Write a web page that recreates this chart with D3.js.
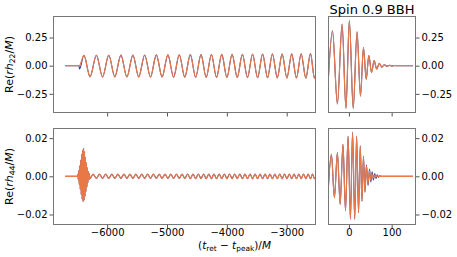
<!DOCTYPE html>
<html>
<head>
<meta charset="utf-8">
<script src="https://cdn.jsdelivr.net/npm/d3@7"></script>
<style>
  body { margin: 0; background: #fff; }
  text { font-family: "DejaVu Sans", sans-serif; fill: #000; }
</style>
</head>
<body>
<script>
// ---- data (extrema of each waveform, [t, value]) ----

// (2,2) mode, inspiral window
const h22Inspiral = [[-6700,0],[-6465,0],[-6389,0.092],[-6285,-0.098],[-6180,0.093],[-6077,-0.099],
  [-5973,0.093],[-5872,-0.099],[-5770,0.094],[-5670,-0.100],[-5570,0.094],[-5472,-0.100],
  [-5373,0.095],[-5276,-0.101],[-5178,0.096],[-5082,-0.101],[-4985,0.096],[-4890,-0.102],
  [-4795,0.097],[-4703,-0.102],[-4610,0.098],[-4521,-0.103],[-4432,0.098],[-4345,-0.104],
  [-4258,0.099],[-4172,-0.104],[-4085,0.100],[-3999,-0.105],[-3912,0.101],[-3826,-0.105],
  [-3740,0.101],[-3655,-0.106],[-3570,0.102],[-3486,-0.107],[-3402,0.103],[-3320,-0.107],
  [-3238,0.104],[-3157,-0.108],[-3076,0.104],[-2996,-0.109],[-2916,0.105],[-2837,-0.109],
  [-2758,0.106],[-2680,-0.110],[-2602,0.107],[-2535,-0.111],[-2500,0.0]];
// NR start differs (small dip before the first cycle)
const nr22Start = [[-6700,0],[-6472,0],[-6461,-0.03]];

// (2,2) mode, merger window
const h22Merger = [[-49,-0.17],[-38.5,0.31],[-27,-0.34],[-16,0.37],[-7,-0.38],[1,0.40],
  [10,-0.38],[19,0.30],[27,-0.27],[34,0.16],[40.5,-0.12],[46.5,0.09],[53,-0.06],[59,0.045],
  [65,-0.03],[71,0.02],[77,-0.013],[83,0.008],[89,-0.005],[95,0.003],[101,-0.0018],
  [107,0.001],[113,0],[150,0]];

// (4,4) mode, inspiral window: flat start, junk burst, then small wiggles
const h44Burst = [[-6700,0],[-6495,0],[-6490,0.0010],[-6482,-0.0018],[-6474,0.0030],[-6466,-0.0042],
  [-6458,0.0055],[-6450,-0.0068],[-6442,0.0085],[-6434,-0.0095],[-6426,0.0115],[-6418,-0.0120],
  [-6410,0.0138],[-6402,-0.0133],[-6394,0.0147],[-6386,-0.0125],[-6378,0.0130],[-6370,-0.0105],
  [-6362,0.0100],[-6354,-0.0080],[-6346,0.0072],[-6338,-0.0055],[-6330,0.0045],[-6322,-0.0033],
  [-6314,0.0025],[-6306,-0.0018],[-6298,0.0014],[-6290,-0.0012]];
const h44Inspiral = [[-6235,0.0011],[-6180,-0.0011],[-6128,0.0011],[-6077,-0.0011],[-6025,0.0011],
  [-5973,-0.0011],[-5922,0.0011],[-5872,-0.0011],[-5821,0.0011],[-5770,-0.0011],[-5720,0.0011],
  [-5670,-0.0011],[-5620,0.0011],[-5570,-0.0011],[-5521,0.0011],[-5472,-0.0011],[-5422,0.0011],
  [-5373,-0.0011],[-5324,0.0011],[-5276,-0.0011],[-5227,0.0011],[-5178,-0.0011],[-5130,0.0011],
  [-5082,-0.0011],[-5033,0.0011],[-4985,-0.0011],[-4937,0.0011],[-4890,-0.0011],[-4842,0.0011],
  [-4795,-0.0011],[-4749,0.0011],[-4703,-0.0011],[-4656,0.0012],[-4610,-0.0012],[-4565,0.0012],
  [-4521,-0.0012],[-4476,0.0012],[-4432,-0.0012],[-4388,0.0012],[-4345,-0.0012],[-4301,0.0012],
  [-4258,-0.0012],[-4215,0.0012],[-4172,-0.0012],[-4128,0.0012],[-4085,-0.0012],[-4042,0.0012],
  [-3999,-0.0012],[-3955,0.0012],[-3912,-0.0012],[-3869,0.0012],[-3826,-0.0012],[-3783,0.0012],
  [-3740,-0.0012],[-3697,0.0012],[-3655,-0.0012],[-3612,0.0012],[-3570,-0.0012],[-3528,0.0012],
  [-3486,-0.0012],[-3444,0.0012],[-3402,-0.0012],[-3361,0.0012],[-3320,-0.0012],[-3279,0.0012],
  [-3238,-0.0012],[-3197,0.0012],[-3157,-0.0012],[-3116,0.0012],[-3076,-0.0012],[-3036,0.0012],
  [-2996,-0.0012],[-2956,0.0012],[-2916,-0.0012],[-2876,0.0012],[-2837,-0.0012],[-2797,0.0012],
  [-2758,-0.0012],[-2719,0.0012],[-2680,-0.0012],[-2641,0.0012],[-2602,-0.0012],[-2568,0.0012],
  [-2535,-0.0012],[-2500,0.0012]];

// (4,4) mode, merger window
const h44Merger = [[-49,-0.009],[-41,0.0115],[-34,-0.0112],[-27,0.0124],[-20.5,-0.0147],[-14,0.0168],
  [-8,-0.018],[-2,0.021],[3.5,-0.0225],[8.5,0.0232],[13.5,-0.0225],[18,0.021],[22.5,-0.019],
  [26.5,0.016],[30.5,-0.013],[34,0.0105],[37.5,-0.0083]];
const h44Ring = [[41,0.0055],[44.5,-0.004],[48,0.0028],[51,-0.0019],[54,0.0013],[57,-0.0009],
  [60,0.0006],[63,-0.0004],[66,0.0002],[69,0],[150,0]];
// NR ringdown decays a bit slower and is visible under the model
const nr44Ring = [[41,0.006],[44.7,-0.0048],[48.2,0.0038],[51.3,-0.003],[54.3,0.0024],[57.3,-0.0019],
  [60.3,0.0015],[63.3,-0.0011],[66.3,0.0008],[69.3,-0.0005],[72.3,0.0003],[76,0],[150,0]];

const xTicksLeft = [-6000, -5000, -4000, -3000];
const xTicksRight = [0, 100];
const yTicks22 = [-0.25, 0, 0.25];
const yTicks44 = [-0.02, 0, 0.02];

// ---- layout ----
const W = 457, H = 257;
const nrColor = "#2f3c9a", modelColor = "#f37b42";

const svg = d3.select("body").append("svg")
  .attr("width", W).attr("height", H);

const xLeft = d3.scaleLinear().domain([-6905, -2510]).range([53, 316]);
const xRight = d3.scaleLinear().domain([-49, 157]).range([328, 416]);
const yTop = d3.scaleLinear().domain([-0.42, 0.441]).range([113, 16]);
const yBot = d3.scaleLinear().domain([-0.0255, 0.0253]).range([225, 128]);

const panels = [
  { id: "tl", x: xLeft, y: yTop, side: "left", xt: xTicksLeft, yt: yTicks22, xlab: false,
    nr: nr22Start.concat(h22Inspiral.slice(2)), model: h22Inspiral },
  { id: "tr", x: xRight, y: yTop, side: "right", xt: xTicksRight, yt: yTicks22, xlab: false,
    nr: h22Merger, model: h22Merger },
  { id: "bl", x: xLeft, y: yBot, side: "left", xt: xTicksLeft, yt: yTicks44, xlab: true,
    nr: h44Burst.concat(h44Inspiral), model: h44Burst.concat(h44Inspiral) },
  { id: "br", x: xRight, y: yBot, side: "right", xt: xTicksRight, yt: yTicks44, xlab: true,
    nr: h44Merger.concat(nr44Ring), model: h44Merger.concat(h44Ring) }
];

const fmtY = d3.format(".2f"), fmtX = d3.format("d");

panels.forEach(p => {
  const [x0, x1] = p.x.range();
  const [y1, y0] = p.y.range();

  svg.append("clipPath").attr("id", "clip-" + p.id)
    .append("rect").attr("x", x0).attr("y", y0).attr("width", x1 - x0).attr("height", y1 - y0);

  const line = d3.line()
    .x(d => p.x(d[0]))
    .y(d => p.y(d[1]))
    .curve(d3.curveMonotoneX);

  const g = svg.append("g").attr("clip-path", "url(#clip-" + p.id + ")");
  g.append("path").datum(p.nr).attr("d", line)
    .attr("fill", "none").attr("stroke", nrColor).attr("stroke-width", 1.1);
  g.append("path").datum(p.model).attr("d", line)
    .attr("fill", "none").attr("stroke", modelColor).attr("stroke-width", 1.2)
    .attr("stroke-opacity", 0.95);

  // y axis
  const yAxis = (p.side === "left" ? d3.axisLeft(p.y) : d3.axisRight(p.y))
    .tickValues(p.yt).tickFormat(fmtY)
    .tickSize(3.5).tickPadding(2).tickSizeOuter(0);
  const ya = svg.append("g")
    .attr("transform", "translate(" + (p.side === "left" ? x0 : x1) + ",0)")
    .call(yAxis);

  // x axis
  const xAxis = d3.axisBottom(p.x).tickValues(p.xt)
    .tickFormat(p.xlab ? fmtX : () => "")
    .tickSize(3.5).tickPadding(0.5).tickSizeOuter(0);
  const xa = svg.append("g").attr("transform", "translate(0," + y1 + ")").call(xAxis);

  [ya, xa].forEach(a => {
    a.select(".domain").remove();
    a.selectAll(".tick line").attr("stroke", "#555");
    a.selectAll("text").attr("font-size", 10).attr("font-family", "DejaVu Sans").attr("fill", "#000");
  });

  svg.append("rect")
    .attr("x", x0 + 0.5).attr("y", y0 + 0.5)
    .attr("width", x1 - x0 - 1).attr("height", y1 - y0 - 1)
    .attr("fill", "none").attr("stroke", "#777").attr("stroke-width", 1);
});

// y labels
function yLabel(cy, sub) {
  const t = svg.append("text")
    .attr("transform", "translate(12.5," + cy + ") rotate(-90)")
    .attr("text-anchor", "middle").attr("font-size", 11);
  t.append("tspan").text("Re(");
  t.append("tspan").attr("font-style", "italic").text("rh");
  t.append("tspan").attr("font-size", 7.7).attr("dy", 2.2).text(sub);
  t.append("tspan").attr("dy", -2.2).text("/");
  t.append("tspan").attr("font-style", "italic").text("M");
  t.append("tspan").text(")");
}
yLabel(64.5, "22");
yLabel(176.5, "44");

// x label
const xl = svg.append("text")
  .attr("x", 234.5).attr("y", 248.8)
  .attr("text-anchor", "middle").attr("font-size", 10.5);
xl.append("tspan").text("(");
xl.append("tspan").attr("font-style", "italic").text("t");
xl.append("tspan").attr("font-size", 7.4).attr("dy", 2.1).text("ret");
xl.append("tspan").attr("dy", -2.1).text(" \u2212 ");
xl.append("tspan").attr("font-style", "italic").text("t");
xl.append("tspan").attr("font-size", 7.4).attr("dy", 2.1).text("peak");
xl.append("tspan").attr("dy", -2.1).text(")/");
xl.append("tspan").attr("font-style", "italic").text("M");

// title over the merger column
svg.append("text")
  .attr("x", 372).attr("y", 14)
  .attr("text-anchor", "middle").attr("font-size", 13)
  .text("Spin 0.9 BBH");
</script>
</body>
</html>
